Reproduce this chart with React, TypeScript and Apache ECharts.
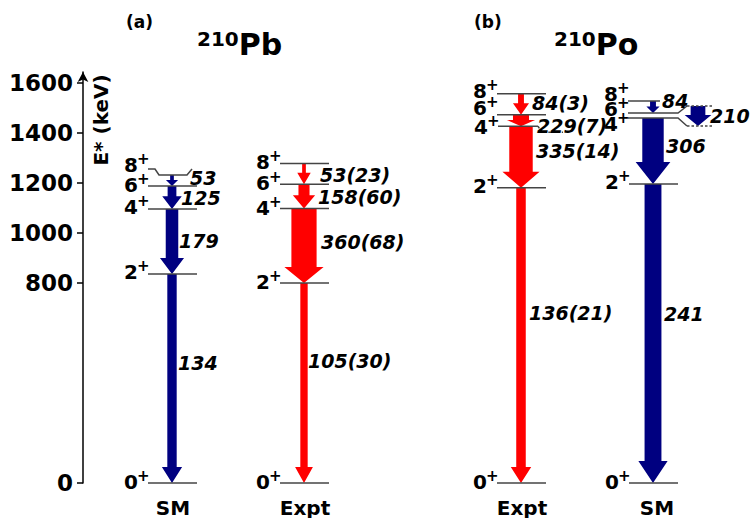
import React, { useEffect, useRef } from "react";
import * as echarts from "echarts";

// ---- data ----
const spins = ["0", "2", "4", "6", "8"];
const pbSmE = [0, 836, 1096, 1188, 1232];
const pbExptE = [0, 800, 1098, 1195, 1278];
const poExptE = [0, 1181, 1427, 1473, 1557];
const poSmE = [0, 1196, 1460, 1480, 1528];
// B(E2) for 2->0, 4->2, 6->4, 8->6
const pbSmB = [134, 179, 125, 53];
const pbExptB = [105, 360, 158, 53];
const pbExptErr = [30, 68, 60, 23];
const poExptB = [136, 335, 229, 84];
const poExptErr = [21, 14, 7, 3];
const poSmB = [241, 306, 210, 84];
const yTicks = [0, 800, 1000, 1200, 1400, 1600];
const colNames = ["SM", "Expt", "Expt", "SM"];
const nuclei = ["Pb", "Po"];
const panelTags = ["(a)", "(b)"];

const SM_COLOR = "#000080";
const EXPT_COLOR = "#ff0000";
const LINE_COLOR = "#444";
const FONT = "DejaVu Sans";

type Col = {
  x: number;
  E: number[];
  B: number[];
  err: number[] | null;
  color: string;
  name: string;
  headMax: number;
  labelDy: number[];
  tDx: number[];
  tDy: number[];
  kind: string;
};

const cols: Col[] = [
  { x: 172, E: pbSmE, B: pbSmB, err: null, color: SM_COLOR, name: colNames[0], headMax: 16,
    labelDy: [-1.5, -2, -2, -1, -10], tDx: [6, 7, 9, 18], tDy: [-16, -1, 0, -3], kind: "pbsm" },
  { x: 304, E: pbExptE, B: pbExptB, err: pbExptErr, color: EXPT_COLOR, name: colNames[1], headMax: 16,
    labelDy: [-1.5, -1, -1, -1, -1.5], tDx: [4, 17, 14, 16], tDy: [-22, -4, 1, 1], kind: "pbex" },
  { x: 521, E: poExptE, B: poExptB, err: poExptErr, color: EXPT_COLOR, name: colNames[2], headMax: 16,
    labelDy: [-1.5, -2, 0.5, -7, -2.5], tDx: [8, 15, 16, 11], tDy: [-22, -6, 5, -1], kind: "poex" },
  { x: 653, E: poSmE, B: poSmB, err: null, color: SM_COLOR, name: colNames[3], headMax: 22,
    labelDy: [-1.5, -2, 6, -4, -7], tDx: [11, 13, 57, 9], tDy: [-20, -5, 0, -6], kind: "posm" },
];

function arrow(xc: number, y1: number, y2: number, B: number, headMax: number, color: string) {
  const len = y2 - y1;
  const w = 0.07 * B;
  let hw = w * 1.2 + 9;
  if (B < 100) hw = Math.min(hw, len * 1.1);
  const h = Math.min(headMax, len * 0.55);
  const yb = y2 - h;
  return {
    type: "polygon",
    shape: {
      points: [
        [xc - w / 2, y1], [xc + w / 2, y1], [xc + w / 2, yb], [xc + hw / 2, yb],
        [xc, y2], [xc - hw / 2, yb], [xc - w / 2, yb],
      ],
    },
    style: { fill: color },
    z2: 1,
  };
}

function line(points: number[][], dashed = false) {
  return {
    type: "polyline",
    shape: { points },
    style: { stroke: LINE_COLOR, lineWidth: 1.5, fill: null, lineDash: dashed ? [2.5, 2] : null },
    z2: 2,
  };
}

function renderItem(params: any, api: any) {
  const col = cols[params.dataIndex];
  const c = api.coord([col.x, 0])[0];
  const yOf = (E: number) => api.coord([col.x, E])[1];
  const arrows: any[] = [];
  const lines: any[] = [];
  const texts: any[] = [];
  const ys = col.E.map(yOf);

  // transitions
  for (let i = 1; i < col.E.length; i++) {
    let y1 = ys[i];
    let y2 = ys[i - 1];
    let xc = c;
    if (col.kind === "posm" && i === 3) {
      xc = c + 45;
      y1 = ys[3] - 7;
      y2 = ys[2] + 8;
    }
    arrows.push(arrow(xc, y1, y2, col.B[i - 1], col.headMax, col.color));
    const txt = col.err ? `${col.B[i - 1]}(${col.err[i - 1]})` : `${col.B[i - 1]}`;
    texts.push({
      type: "text",
      x: c + col.tDx[i - 1],
      y: (y1 + y2) / 2 + col.tDy[i - 1],
      style: {
        text: txt, fontFamily: FONT, fontSize: 19, fontWeight: "bold", fontStyle: "italic",
        fill: "#000", align: "left", verticalAlign: "middle",
      },
      z2: 3,
    });
  }

  // levels
  for (let i = 0; i < col.E.length; i++) {
    const y = ys[i];
    let xs = c - 24;
    if (col.kind === "pbsm" && i === 4) {
      lines.push(line([[c - 24, y - 6], [c - 17, y - 6], [c - 13, y], [c + 15, y], [c + 20, y - 6]]));
    } else if (col.kind === "poex" && i === 2) {
      xs = c - 23;
      lines.push(line([[c - 23, y], [c + 17, y]]));
      lines.push(line([[c + 17, y], [c + 21, y + 6], [c + 42, y + 6]], true));
    } else if (col.kind === "posm" && i === 3) {
      xs = c - 25;
      lines.push(line([[c - 25, y], [c + 25, y], [c + 34, y - 7]]));
      lines.push(line([[c + 34, y - 7], [c + 59, y - 7]], true));
    } else if (col.kind === "posm" && i === 2) {
      xs = c - 25;
      lines.push(line([[c - 25, y], [c + 25, y], [c + 34, y + 8]]));
      lines.push(line([[c + 34, y + 8], [c + 59, y + 8]], true));
    } else if (col.kind === "posm" && i === 4) {
      xs = c - 25;
      lines.push(line([[c - 25, y], [c + 7, y]]));
    } else {
      lines.push(line([[c - 24, y], [c + 25, y]]));
    }
    const ly = y + col.labelDy[i];
    texts.push({
      type: "text",
      x: xs - 10,
      y: ly,
      style: { text: spins[i], fontFamily: FONT, fontSize: 20, fontWeight: "bold", fill: "#000", align: "right", verticalAlign: "middle" },
      z2: 3,
    });
    texts.push({
      type: "text",
      x: xs - 11,
      y: ly - 6,
      style: { text: "+", fontFamily: FONT, fontSize: 15, fontWeight: "bold", fill: "#000", align: "left", verticalAlign: "middle" },
      z2: 3,
    });
  }

  // column name
  texts.push({
    type: "text",
    x: c + (col.kind === "posm" ? 4 : 1),
    y: ys[0] + 25,
    style: {
      text: col.name, fontFamily: FONT, fontSize: 20, fontWeight: "bold", fill: "#000",
      align: "center", verticalAlign: "middle",
    },
    z2: 3,
  });

  return { type: "group", children: [...arrows, ...lines, ...texts] };
}

const titleRich = {
  sup: { fontFamily: FONT, fontSize: 20, fontWeight: "bold", color: "#000", verticalAlign: "top", lineHeight: 30, padding: [0, 0, 12, 0] },
  el: { fontFamily: FONT, fontSize: 30, fontWeight: "bold", color: "#000", lineHeight: 30 },
};

export default function App() {
  const ref = useRef<HTMLDivElement>(null);
  useEffect(() => {
    if (!ref.current) return;
    const chart = echarts.init(ref.current, null, { renderer: "svg" });
    chart.setOption({
      animation: false,
      backgroundColor: "#fff",
      grid: { left: 83, right: 0, top: 72, bottom: 35 },
      xAxis: { type: "value", min: 83, max: 751, show: false },
      yAxis: {
        type: "value",
        min: 0,
        max: 1644,
        splitLine: { show: false },
        axisLine: { show: true, lineStyle: { color: "#000", width: 1.5 }, symbol: ["none", "arrow"], symbolSize: [8, 10], symbolOffset: [0, 0] },
        axisTick: { show: true, inside: false, length: 6, lineStyle: { color: "#000", width: 1.5 }, customValues: yTicks },
        axisLabel: {
          show: true, customValues: yTicks, margin: 10, color: "#000", fontFamily: FONT, fontSize: 23, fontWeight: "bold",
          formatter: (v: number) => String(v),
        },
      },
      graphic: [
        { type: "text", x: 101, y: 120, rotation: Math.PI / 2,
          style: { text: "E* (keV)", fontFamily: FONT, fontSize: 20, fontWeight: "bold", fill: "#000", align: "center", verticalAlign: "middle" } },
        { type: "text", x: 126, y: 22,
          style: { text: panelTags[0], fontFamily: FONT, fontSize: 17, fontWeight: "bold", fill: "#000", align: "left", verticalAlign: "middle" } },
        { type: "text", x: 474, y: 22,
          style: { text: panelTags[1], fontFamily: FONT, fontSize: 17, fontWeight: "bold", fill: "#000", align: "left", verticalAlign: "middle" } },
        { type: "text", x: 197, y: 44,
          style: { text: `{sup|210}{el|${nuclei[0]}}`, rich: titleRich, align: "left", verticalAlign: "middle" } },
        { type: "text", x: 554, y: 44,
          style: { text: `{sup|210}{el|${nuclei[1]}}`, rich: titleRich, align: "left", verticalAlign: "middle" } },
      ],
      series: [
        {
          type: "custom",
          coordinateSystem: "cartesian2d",
          clip: false,
          renderItem,
          data: cols.map((c) => [c.x, 0]),
        },
      ],
    });
    return () => chart.dispose();
  }, []);
  return <div ref={ref} style={{ width: 751, height: 518, position: "absolute", left: 0, top: 0 }} />;
}
